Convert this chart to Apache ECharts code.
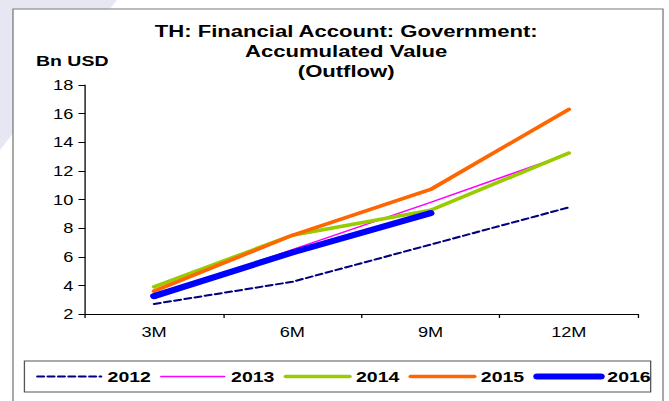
<!DOCTYPE html>
<html>
<head>
<meta charset="utf-8">
<script src="https://cdn.jsdelivr.net/npm/echarts@6/dist/echarts.min.js"></script>
<style>
  html, body { margin: 0; padding: 0; background: #fff; overflow: hidden; }
  #wrap { width: 669px; height: 401px; overflow: hidden; position: relative; background: #fff; }
  /* the chart is laid out on a narrower canvas and widened, giving the broad lettering of the printed chart */
  #chart { width: 515px; height: 401px; transform: scaleX(1.299); transform-origin: 0 0; }
</style>
</head>
<body>
<div id="wrap"><div id="chart"></div></div>
<script>
// Periods on the x axis
const categories = ['3M', '6M', '9M', '12M'];
// Series names
const years = ['2012', '2013', '2014', '2015', '2016'];
// Accumulated outflow, Bn USD
const v2012 = [2.7, 4.25, 6.85, 9.45];
const v2013 = [3.1, 6.5, 9.8, 13.2];
const v2014 = [3.9, 7.5, 9.25, 13.25];
const v2015 = [3.6, 7.5, 10.7, 16.3];
const v2016 = [3.25, 6.3, 9.05];
// Y axis ticks
const yTicks = { min: 2, max: 18, step: 2 };

const FONT = '"Liberation Sans", Arial, sans-serif';

const styles = {
  '2012': { color: '#000080', width: 2, type: [5, 3] },
  '2013': { color: '#FF00FF', width: 1.5, type: 'solid' },
  '2014': { color: '#99CC00', width: 3.5, type: 'solid' },
  '2015': { color: '#FF6600', width: 3.5, type: 'solid' },
  '2016': { color: '#0000FF', width: 6, type: 'solid' }
};
const values = { '2012': v2012, '2013': v2013, '2014': v2014, '2015': v2015, '2016': v2016 };

const chart = echarts.init(document.getElementById('chart'), null, { renderer: 'svg' });

chart.setOption({
  backgroundColor: '#fff',
  animation: false,
  graphic: [
    {
      type: 'polygon', z: -20, silent: true,
      shape: { points: [[0, 0], [90, 0], [0, 150]] },
      style: { fill: '#E7E7F3' }
    },
    {
      type: 'rect', z: -10, silent: true,
      shape: { x: 10, y: 9, width: 500.4, height: 420 },
      style: { fill: '#fff', stroke: '#7a7a7a', lineWidth: 1 }
    }
  ],
  title: [
    {
      text: 'TH: Financial Account: Government:\nAccumulated Value\n(Outflow)',
      left: 266.5, top: 21, padding: 0, textAlign: 'center',
      textStyle: { fontFamily: FONT, fontSize: 17, fontWeight: 'bold', color: '#000', lineHeight: 20 }
    },
    {
      text: 'Bn USD',
      left: 27.7, top: 53, padding: 0,
      textStyle: { fontFamily: FONT, fontSize: 15, fontWeight: 'bold', color: '#000' }
    }
  ],
  grid: { left: 65.4, right: 23.9, top: 85, bottom: 87, containLabel: false },
  legend: {
    data: years,
    left: 18.8, top: 361,
    width: 476,
    padding: [8, 0, 8, 9],
    itemGap: 7, itemWidth: 49, itemHeight: 14,
    borderColor: '#555', borderWidth: 1,
    itemStyle: { opacity: 0, borderWidth: 0 },
    lineStyle: { width: 'inherit', type: 'inherit', color: 'inherit', cap: 'round' },
    textStyle: { fontFamily: FONT, fontSize: 15, fontWeight: 'bold', color: '#000' },
    selectedMode: false
  },
  xAxis: {
    type: 'category',
    data: categories,
    boundaryGap: true,
    axisLine: { show: true, lineStyle: { color: '#000', width: 1 } },
    axisTick: { show: true, length: 4, lineStyle: { color: '#000' } },
    axisLabel: { fontFamily: FONT, fontSize: 14, color: '#000', margin: 11 },
    splitLine: { show: false }
  },
  yAxis: {
    type: 'value',
    min: yTicks.min, max: yTicks.max, interval: yTicks.step,
    axisLine: { show: true, lineStyle: { color: '#000', width: 1 } },
    axisTick: { show: true, length: 5, lineStyle: { color: '#000' } },
    axisLabel: { fontFamily: FONT, fontSize: 14, color: '#000', margin: 9 },
    splitLine: { show: false }
  },
  series: years.map(y => ({
    name: y,
    type: 'line',
    data: values[y],
    symbol: 'none',
    showSymbol: false,
    lineStyle: { color: styles[y].color, width: styles[y].width, type: styles[y].type, cap: 'round', join: 'round' },
    itemStyle: { color: styles[y].color }
  }))
});
</script>
</body>
</html>
